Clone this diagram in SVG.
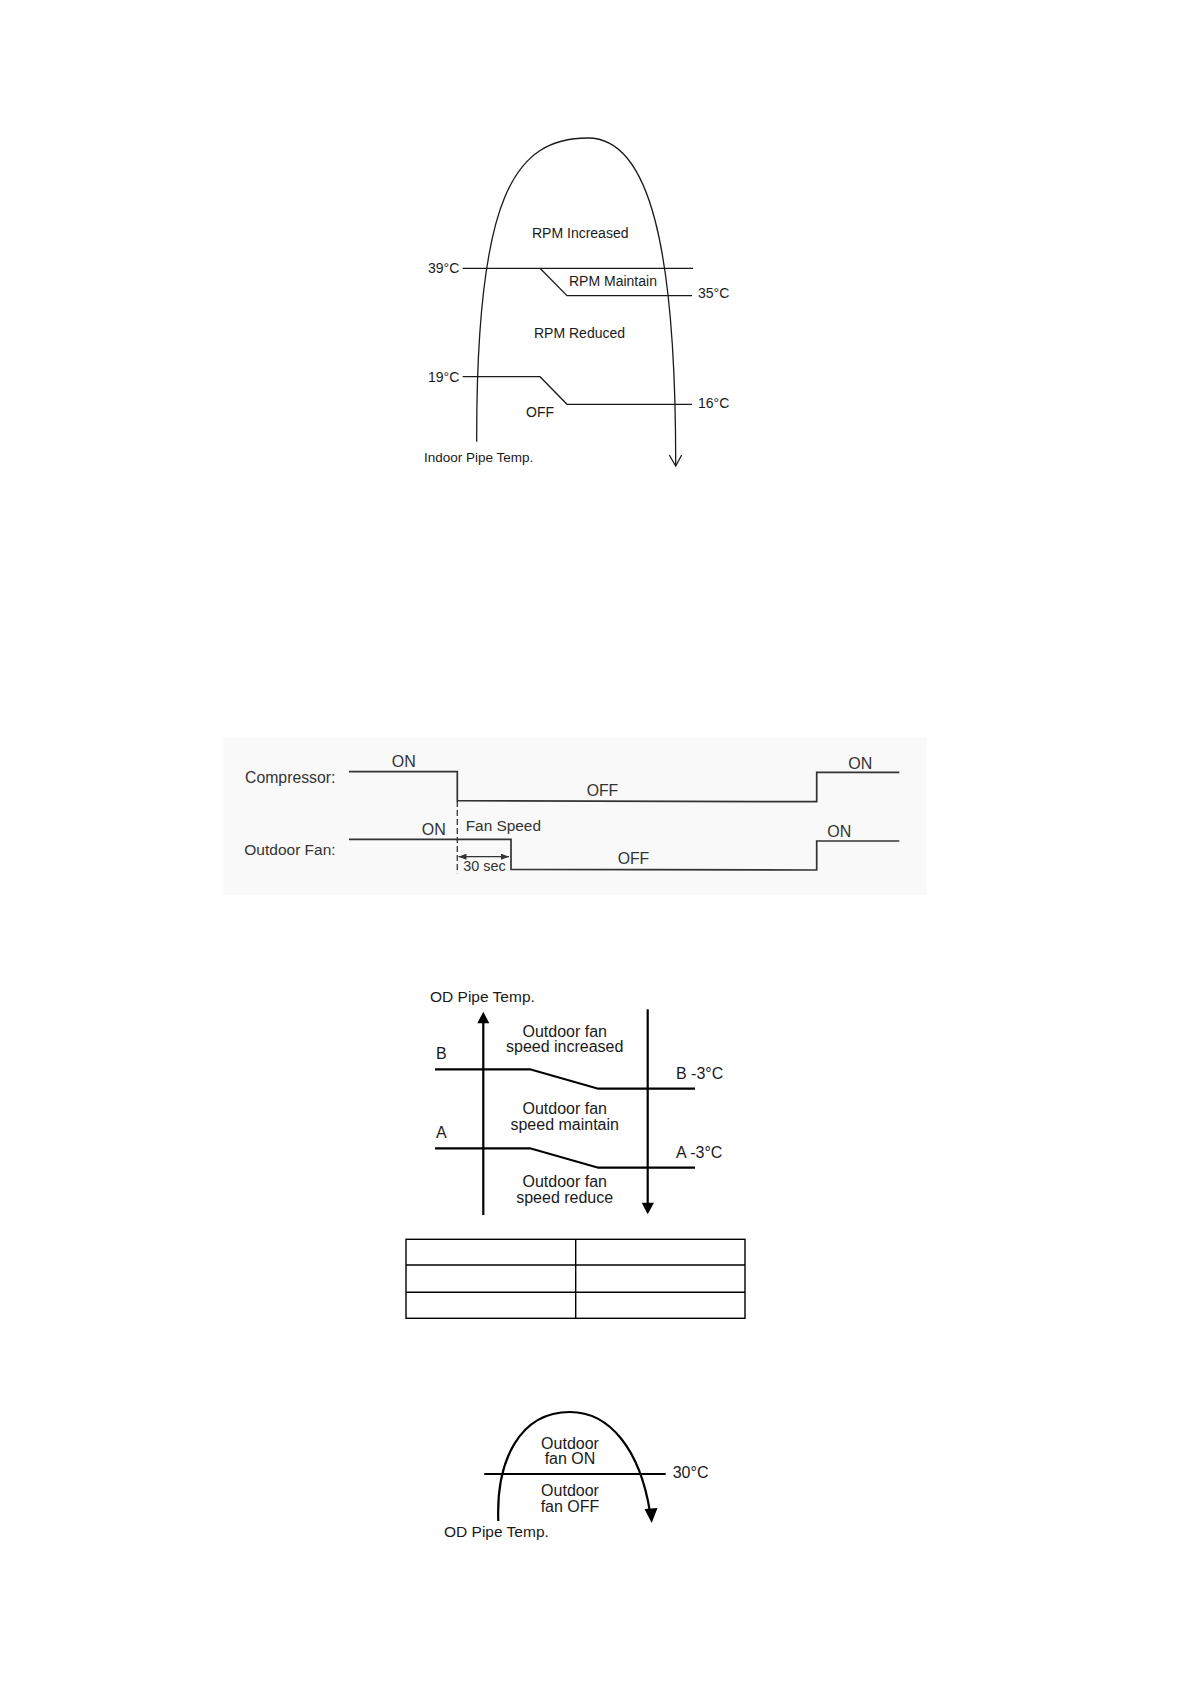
<svg xmlns="http://www.w3.org/2000/svg" width="1190" height="1684" viewBox="0 0 1190 1684">
<style>
text { font-family: "Liberation Sans", Arial, sans-serif; fill: #1a1a1a; }
.t1 { font-size: 14px; }
.t2 { font-size: 15.8px; fill: #333; }
.t3 { font-size: 16px; }
.mid { text-anchor: middle; }
.thin { fill: none; stroke: #1a1a1a; stroke-width: 1.3; }
.gray { fill: none; stroke: #333; stroke-width: 1.7; }
.bold { fill: none; stroke: #000; stroke-width: 2.2; }
.head { fill: #000; stroke: none; }
</style>
<defs>
<marker id="sa" viewBox="0 0 8 6" refX="8" refY="3" markerWidth="8" markerHeight="6" markerUnits="userSpaceOnUse" orient="auto-start-reverse">
<path d="M0,0 L8,3 L0,6 Z" fill="#333"/>
</marker>
</defs>
<rect width="1190" height="1684" fill="#fff"/>

<!-- Diagram 1: indoor pipe temperature -->
<g id="diagram1">
<g id="d1-labels">
<text class="t1" x="532" y="238">RPM Increased</text>
<text class="t1" x="428" y="273">39°C</text>
<text class="t1" x="569" y="286">RPM Maintain</text>
<text class="t1" x="698" y="298">35°C</text>
<text class="t1" x="534" y="338">RPM Reduced</text>
<text class="t1" x="428" y="382">19°C</text>
<text class="t1" x="698" y="408">16°C</text>
<text class="t1" x="526" y="417">OFF</text>
<text class="t1" x="424" y="462" style="font-size:13.5px">Indoor Pipe Temp.</text>
</g>
<g id="d1-connectors">
<path class="thin" d="M476.7,441.7 C476,195 515,138 588,138 C650,138 676,250 675.7,466"/>
<polyline class="thin" points="669.3,455 675.7,466 681.7,455"/>
<line class="thin" x1="462.7" y1="268.3" x2="693" y2="268.3"/>
<polyline class="thin" points="540,268.3 567,295.7 692,295.7"/>
<polyline class="thin" points="462.7,376.7 540,376.7 567,404.3 692,404.3"/>
</g>
</g>

<!-- Diagram 2: timing -->
<g id="diagram2">
<rect x="223.3" y="736.7" width="703.4" height="158.3" fill="#f9f9f9"/>
<g id="d2-labels">
<text class="t2" x="245" y="783.3">Compressor:</text>
<text class="t2" x="244.3" y="855" style="font-size:15.5px">Outdoor Fan:</text>
<text class="t2" x="391.7" y="767.3" style="font-size:16px">ON</text>
<text class="t2" x="421.7" y="835" style="font-size:16px">ON</text>
<text class="t2" x="465.7" y="831" style="font-size:15.4px">Fan Speed</text>
<text class="t2" x="463.3" y="870.7" style="font-size:14.4px">30 sec</text>
<text class="t2" x="586.7" y="796">OFF</text>
<text class="t2" x="617.7" y="864">OFF</text>
<text class="t2" x="848.3" y="769.3" style="font-size:16px">ON</text>
<text class="t2" x="827.3" y="837.3" style="font-size:16px">ON</text>
</g>
<g id="d2-connectors">
<polyline class="gray" points="349,771.7 457.3,771.7 457.3,800.7 816.7,801.7 816.7,772.3 899.3,772.3"/>
<polyline class="gray" points="349,839.3 511,839.3 511,869.3 816.7,870 816.7,841 899.3,841"/>
<line x1="457.3" y1="801" x2="457.3" y2="873.3" stroke="#333" stroke-width="1.3" stroke-dasharray="6,3"/>
<line x1="458.5" y1="856.7" x2="509" y2="856.7" stroke="#333" stroke-width="1.2" marker-start="url(#sa)" marker-end="url(#sa)"/>
</g>
</g>

<!-- Diagram 3: OD pipe temperature fan speed -->
<g id="diagram3">
<g id="d3-labels">
<text class="t3" x="430" y="1001.7" style="font-size:15.5px">OD Pipe Temp.</text>
<text class="t3 mid" x="564.7" y="1036.7">Outdoor fan</text>
<text class="t3 mid" x="564.7" y="1051.7">speed increased</text>
<text class="t3" x="436" y="1059.3">B</text>
<text class="t3" x="676" y="1079.3">B -3°C</text>
<text class="t3 mid" x="564.7" y="1114.3">Outdoor fan</text>
<text class="t3 mid" x="564.7" y="1130">speed maintain</text>
<text class="t3" x="436" y="1138.3">A</text>
<text class="t3" x="676" y="1158.3">A -3°C</text>
<text class="t3 mid" x="564.7" y="1187.3">Outdoor fan</text>
<text class="t3 mid" x="564.7" y="1202.7">speed reduce</text>
</g>
<g id="d3-connectors">
<line class="bold" x1="483.3" y1="1215" x2="483.3" y2="1020"/>
<polygon class="head" points="483.3,1011.7 477.3,1023.3 489.3,1023.3"/>
<line class="bold" x1="647.7" y1="1009.3" x2="647.7" y2="1205"/>
<polygon class="head" points="641.7,1202.7 654,1202.7 647.7,1214.3"/>
<polyline class="bold" points="435,1069.3 530,1069.3 598.3,1088.7 695,1088.7"/>
<polyline class="bold" points="435,1148.3 530,1148.3 598.3,1167.7 695,1167.7"/>
</g>
</g>

<!-- Table -->
<g id="table">
<rect x="406" y="1239.3" width="339" height="79" fill="none" stroke="#000" stroke-width="1.4"/>
<line x1="575.7" y1="1239.3" x2="575.7" y2="1318.3" stroke="#000" stroke-width="1.4"/>
<line x1="406" y1="1265" x2="745" y2="1265" stroke="#000" stroke-width="1.4"/>
<line x1="406" y1="1292.3" x2="745" y2="1292.3" stroke="#000" stroke-width="1.4"/>
</g>

<!-- Diagram 4: OD fan on/off -->
<g id="diagram4">
<g id="d4-labels">
<text class="t3 mid" x="570" y="1449">Outdoor</text>
<text class="t3 mid" x="570" y="1464.3">fan ON</text>
<text class="t3" x="672.7" y="1477.7">30°C</text>
<text class="t3 mid" x="570" y="1496">Outdoor</text>
<text class="t3 mid" x="570" y="1511.7">fan OFF</text>
<text class="t3" x="444" y="1536.7" style="font-size:15.5px">OD Pipe Temp.</text>
</g>
<g id="d4-connectors">
<path class="bold" d="M498.3,1521 C496,1460 520,1412 570,1412 C610,1412 640,1450 650,1512"/>
<polygon class="head" points="644.5,1509 657.5,1508 651.7,1523"/>
<line class="bold" x1="484.3" y1="1474" x2="665.7" y2="1474"/>
</g>
</g>
</svg>
